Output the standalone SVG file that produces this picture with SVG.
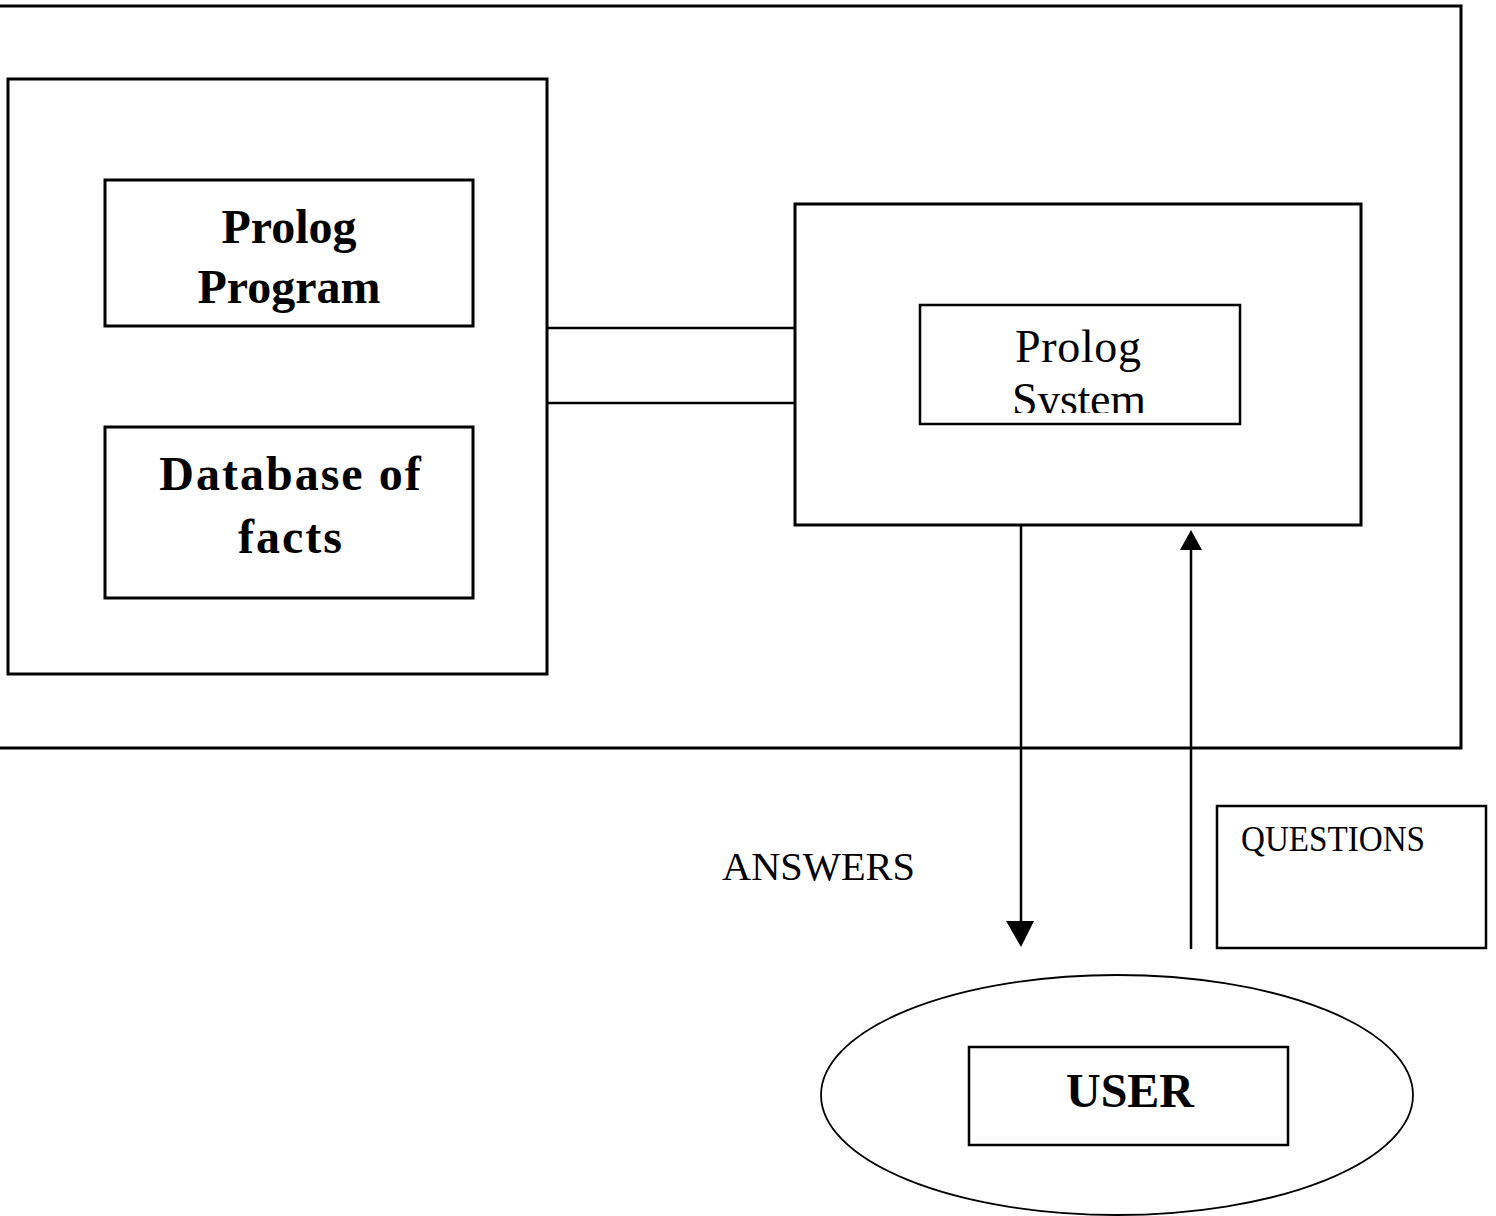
<svg xmlns="http://www.w3.org/2000/svg" width="1496" height="1216" viewBox="0 0 1496 1216">
<style>
.box{fill:none;stroke:#000;stroke-width:3}
.thin{fill:none;stroke:#000;stroke-width:2.5}
.ln{stroke:#000;stroke-width:2.5;fill:none}
.b{font-family:"Liberation Serif","Times New Roman",serif;font-weight:bold;fill:#000;text-anchor:middle}
.r{font-family:"Liberation Serif","Times New Roman",serif;fill:#000}
</style>
<defs>
<clipPath id="sysclip"><rect x="920" y="305" width="320" height="108"/></clipPath>
</defs>
<rect width="1496" height="1216" fill="#fff"/>
<g id="outer"><rect class="box" x="-10" y="6" width="1471" height="742"/></g>
<g id="left-container"><rect class="box" x="8" y="79" width="539" height="595"/></g>
<g id="prolog-program">
<rect class="box" x="105" y="180" width="368" height="146"/>
<text class="b" x="289" y="243" font-size="48">Prolog</text>
<text class="b" x="289" y="303" font-size="48">Program</text>
</g>
<g id="database">
<rect class="box" x="105" y="427" width="368" height="171"/>
<text class="b" x="291" y="490" font-size="48" letter-spacing="2">Database of</text>
<text class="b" x="291" y="553" font-size="48" letter-spacing="2">facts</text>
</g>
<g id="system-container"><rect class="box" x="795" y="204" width="566" height="321"/></g>
<g id="prolog-system">
<rect class="thin" x="920" y="305" width="320" height="119"/>
<g clip-path="url(#sysclip)">
<text class="r" x="1015" y="362" font-size="46" textLength="126" lengthAdjust="spacing">Prolog</text>
<text class="r" x="1012" y="415" font-size="46" textLength="134" lengthAdjust="spacing">System</text>
</g>
</g>
<g id="questions">
<rect class="thin" x="1217" y="806" width="269" height="142"/>
<text class="r" x="1241" y="851" font-size="35" textLength="184" lengthAdjust="spacingAndGlyphs">QUESTIONS</text>
</g>
<g id="answers-label">
<text class="r" x="722" y="880" font-size="40" textLength="193" lengthAdjust="spacingAndGlyphs">ANSWERS</text>
</g>
<g id="user">
<ellipse cx="1117" cy="1095" rx="296" ry="120" fill="none" stroke="#000" stroke-width="1.8"/>
<rect class="thin" x="969" y="1047" width="319" height="98"/>
<text class="b" x="1130" y="1107" font-size="48">USER</text>
</g>
<g id="connectors">
<line class="ln" x1="547" y1="328" x2="795" y2="328"/>
<line class="ln" x1="547" y1="403" x2="795" y2="403"/>
<line class="ln" x1="1021" y1="525" x2="1021" y2="925"/>
<polygon points="1006,921 1034,921 1021,947" fill="#000"/>
<line class="ln" x1="1191" y1="949" x2="1191" y2="546"/>
<polygon points="1180,550 1202,550 1191,530" fill="#000"/>
</g>
</svg>
